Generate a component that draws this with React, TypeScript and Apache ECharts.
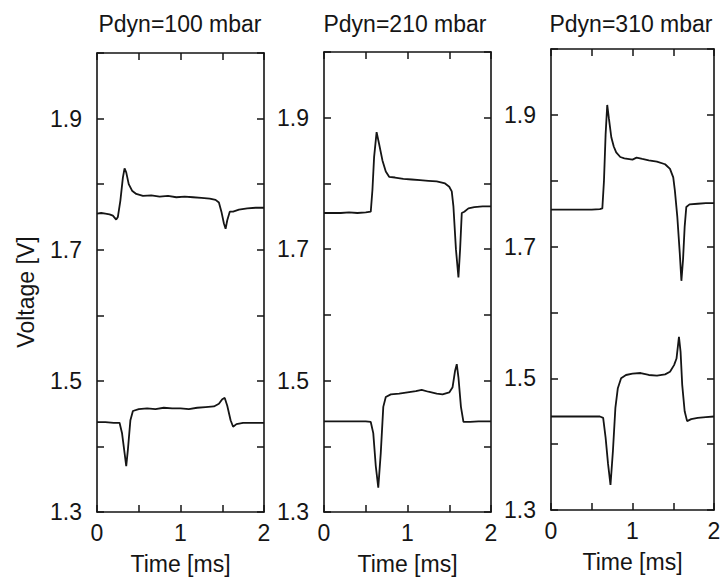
import React, { useEffect, useRef } from "react";
import * as echarts from "echarts";

// Time [ms] / Voltage [V] samples of the two probe signals for each dynamic pressure
const trace100Upper: [number, number][] = [
  [0, 1.755], [0.05, 1.756], [0.1, 1.755], [0.15, 1.754], [0.19, 1.752], [0.23, 1.746],
  [0.25, 1.75], [0.28, 1.775], [0.31, 1.81], [0.33, 1.824], [0.35, 1.818], [0.38, 1.8],
  [0.42, 1.79], [0.47, 1.785], [0.55, 1.782], [0.65, 1.783], [0.75, 1.781], [0.85, 1.782],
  [0.95, 1.78], [1.05, 1.781], [1.15, 1.78], [1.25, 1.779], [1.35, 1.778], [1.42, 1.776],
  [1.46, 1.772], [1.49, 1.758], [1.52, 1.74], [1.54, 1.732], [1.56, 1.745], [1.59, 1.758],
  [1.63, 1.758], [1.7, 1.761], [1.8, 1.763], [1.9, 1.764], [2.0, 1.764],
];
const trace100Lower: [number, number][] = [
  [0, 1.437], [0.1, 1.437], [0.2, 1.436], [0.27, 1.436], [0.3, 1.42], [0.33, 1.39],
  [0.35, 1.37], [0.37, 1.395], [0.4, 1.44], [0.43, 1.454], [0.5, 1.457], [0.6, 1.458],
  [0.7, 1.457], [0.8, 1.459], [0.9, 1.458], [1.0, 1.458], [1.1, 1.457], [1.2, 1.459],
  [1.3, 1.46], [1.4, 1.461], [1.46, 1.465], [1.5, 1.472], [1.53, 1.474], [1.56, 1.462],
  [1.6, 1.44], [1.63, 1.43], [1.67, 1.434], [1.75, 1.436], [1.85, 1.436], [2.0, 1.436],
];
const trace210Upper: [number, number][] = [
  [0, 1.755], [0.1, 1.755], [0.2, 1.755], [0.3, 1.756], [0.4, 1.755], [0.5, 1.756],
  [0.56, 1.757], [0.58, 1.79], [0.6, 1.84], [0.63, 1.878], [0.66, 1.86], [0.7, 1.835],
  [0.74, 1.818], [0.78, 1.81], [0.85, 1.809], [0.95, 1.807], [1.05, 1.806], [1.15, 1.805],
  [1.25, 1.804], [1.35, 1.803], [1.45, 1.8], [1.5, 1.795], [1.53, 1.788], [1.55, 1.765],
  [1.58, 1.7], [1.61, 1.657], [1.63, 1.7], [1.65, 1.755], [1.68, 1.757], [1.73, 1.762],
  [1.8, 1.764], [1.9, 1.765], [2.0, 1.765],
];
const trace210Lower: [number, number][] = [
  [0, 1.438], [0.1, 1.438], [0.2, 1.438], [0.3, 1.438], [0.4, 1.438], [0.5, 1.438],
  [0.56, 1.437], [0.59, 1.42], [0.62, 1.37], [0.65, 1.337], [0.68, 1.39], [0.71, 1.46],
  [0.74, 1.475], [0.8, 1.479], [0.9, 1.48], [1.0, 1.482], [1.1, 1.484], [1.17, 1.486],
  [1.25, 1.483], [1.35, 1.48], [1.42, 1.479], [1.5, 1.482], [1.54, 1.49], [1.57, 1.515],
  [1.59, 1.525], [1.61, 1.505], [1.64, 1.46], [1.67, 1.437], [1.75, 1.437], [1.85, 1.438],
  [2.0, 1.438],
];
const trace310Upper: [number, number][] = [
  [0, 1.756], [0.1, 1.756], [0.2, 1.756], [0.3, 1.756], [0.4, 1.756], [0.5, 1.756],
  [0.6, 1.757], [0.63, 1.758], [0.65, 1.8], [0.67, 1.87], [0.69, 1.915], [0.71, 1.895],
  [0.74, 1.866], [0.77, 1.852], [0.8, 1.843], [0.85, 1.836], [0.9, 1.834], [1.0, 1.832],
  [1.05, 1.835], [1.12, 1.833], [1.2, 1.831], [1.3, 1.829], [1.4, 1.825], [1.46, 1.818],
  [1.5, 1.805], [1.52, 1.785], [1.55, 1.745], [1.58, 1.69], [1.6, 1.648], [1.62, 1.68],
  [1.64, 1.73], [1.66, 1.76], [1.7, 1.764], [1.8, 1.765], [1.9, 1.766], [2.0, 1.766],
];
const trace310Lower: [number, number][] = [
  [0, 1.442], [0.1, 1.442], [0.2, 1.442], [0.3, 1.442], [0.4, 1.442], [0.5, 1.442],
  [0.6, 1.442], [0.64, 1.44], [0.67, 1.41], [0.7, 1.37], [0.73, 1.338], [0.76, 1.39],
  [0.79, 1.455], [0.82, 1.485], [0.86, 1.5], [0.92, 1.505], [1.0, 1.507], [1.1, 1.508],
  [1.2, 1.505], [1.3, 1.504], [1.4, 1.506], [1.46, 1.51], [1.51, 1.52], [1.54, 1.53],
  [1.57, 1.563], [1.59, 1.54], [1.61, 1.49], [1.64, 1.45], [1.67, 1.435], [1.72, 1.438],
  [1.8, 1.44], [1.9, 1.441], [2.0, 1.442],
];

const panelTitles = ["Pdyn=100 mbar", "Pdyn=210 mbar", "Pdyn=310 mbar"];
const panelTraces = [
  [trace100Upper, trace100Lower],
  [trace210Upper, trace210Lower],
  [trace310Upper, trace310Lower],
];
const timeName = "Time [ms]";
const voltageName = "Voltage [V]";

const FONT = '"Liberation Sans", Arial, Helvetica, sans-serif';
const INK = "#151515";

// plot box of each panel in pixels
const boxes = [
  { left: 97, top: 53, width: 167, height: 459, titleX: 180 },
  { left: 324, top: 52, width: 167, height: 460, titleX: 405 },
  { left: 551, top: 49, width: 163, height: 461, titleX: 631 },
];

export default function App() {
  const ref = useRef<HTMLDivElement>(null);

  useEffect(() => {
    if (!ref.current) return;
    const chart = echarts.init(ref.current, undefined, { renderer: "svg" });

    const axisLine = { show: true, onZero: false, lineStyle: { color: INK, width: 1.6 } };
    const tick = { show: true, inside: true, length: 7, lineStyle: { color: INK, width: 1.5 } };

    const grids: any[] = [];
    const xAxes: any[] = [];
    const yAxes: any[] = [];
    const series: any[] = [];
    const graphics: any[] = [];

    boxes.forEach((b, i) => {
      grids.push({ left: b.left, top: b.top, width: b.width, height: b.height, containLabel: false });
      xAxes.push({
        type: "value", gridIndex: i, position: "bottom", min: 0, max: 2, interval: 0.5,
        axisLine, axisTick: tick, splitLine: { show: false },
        axisLabel: {
          color: INK, fontFamily: FONT, fontSize: 23, margin: 9,
          formatter: (v: number) => (Number.isInteger(v) ? String(v) : ""),
        },
        name: timeName, nameLocation: "middle", nameGap: 40,
        nameTextStyle: { color: INK, fontFamily: FONT, fontSize: 23 },
      });
      xAxes.push({
        type: "value", gridIndex: i, position: "top", min: 0, max: 2, interval: 0.5,
        axisLine, axisTick: tick, splitLine: { show: false }, axisLabel: { show: false },
      });
      yAxes.push({
        type: "value", gridIndex: i, position: "left", min: 1.3, max: 2.0, interval: 0.1,
        axisLine, axisTick: tick, splitLine: { show: false },
        axisLabel: {
          color: INK, fontFamily: FONT, fontSize: 23, margin: 15,
          formatter: (v: number) => {
            const k = Math.round(v * 10);
            return k % 2 === 1 && k < 20 ? (k / 10).toFixed(1) : "";
          },
        },
      });
      yAxes.push({
        type: "value", gridIndex: i, position: "right", min: 1.3, max: 2.0, interval: 0.1,
        axisLine, axisTick: tick, splitLine: { show: false }, axisLabel: { show: false },
      });
      panelTraces[i].forEach((trace) => {
        series.push({
          type: "line", xAxisIndex: 2 * i, yAxisIndex: 2 * i, data: trace,
          showSymbol: false, symbol: "none", silent: true,
          lineStyle: { color: INK, width: 1.8 },
        });
      });
      graphics.push({
        type: "text", x: b.titleX, y: 24,
        style: {
          text: panelTitles[i], fill: INK, font: `23px ${FONT}`,
          textAlign: "center", textVerticalAlign: "middle",
        },
      });
    });

    graphics.push({
      type: "text", x: 26, y: 292, rotation: Math.PI / 2,
      style: {
        text: voltageName, fill: INK, font: `23px ${FONT}`,
        textAlign: "center", textVerticalAlign: "middle",
      },
    });

    chart.setOption({
      animation: false,
      backgroundColor: "#ffffff",
      grid: grids,
      xAxis: xAxes,
      yAxis: yAxes,
      series,
      graphic: graphics,
    });

    return () => chart.dispose();
  }, []);

  return (
    <div
      ref={ref}
      style={{ position: "absolute", left: 0, top: 0, width: 725, height: 581 }}
    />
  );
}
